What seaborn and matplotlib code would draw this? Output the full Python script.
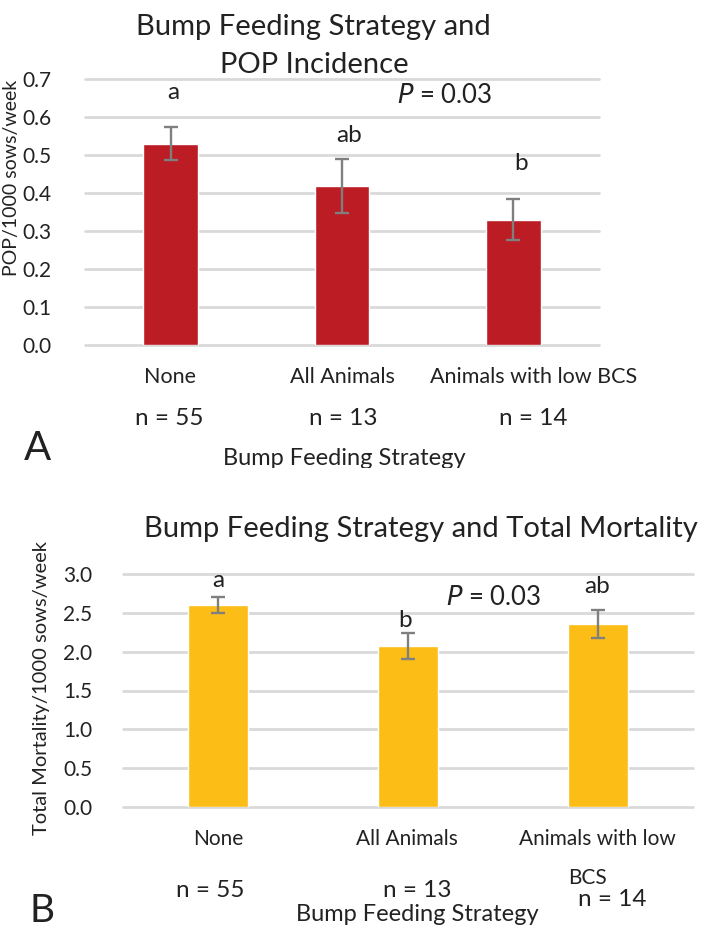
import matplotlib
matplotlib.use('Agg')
import matplotlib.pyplot as plt
import seaborn as sns
import pandas as pd

# data
strategies = ['None', 'All Animals', 'Animals with low BCS']
n_obs = [55, 13, 14]
pop_mean = [0.53, 0.418, 0.33]
pop_err = [0.044, 0.071, 0.054]
pop_letters = ['a', 'ab', 'b']
mort_mean = [2.60, 2.075, 2.355]
mort_err = [0.10, 0.166, 0.18]
mort_letters = ['a', 'b', 'ab']
p_value = 0.03

sns.set_style('white')
plt.rcParams['font.family'] = ['Lato', 'DejaVu Sans']

W, H = 701, 932
fig = plt.figure(figsize=(W / 100, H / 100), dpi=100)
TXT = '#222222'
GRID = '#d9d9d9'


def box(l, t, r, b):
    return [l / W, 1 - b / H, (r - l) / W, (b - t) / H]


def ftext(x, y, s, **kw):
    kw.setdefault('ha', 'center')
    kw.setdefault('va', 'baseline')
    kw.setdefault('color', TXT)
    return fig.text(x / W, 1 - y / H, s, **kw)


def bar_panel(rect, means, errs, color, ymax, step, ypad):
    ax = fig.add_axes(rect)
    df = pd.DataFrame({'strategy': strategies, 'value': means})
    sns.barplot(data=df, x='strategy', y='value', color=color, saturation=1,
                width=0.32, ax=ax, zorder=3)
    centers = [p.get_x() + p.get_width() / 2 for p in ax.patches]
    ax.errorbar(centers, means, yerr=errs, fmt='none', ecolor='#7f7f7f',
                elinewidth=1.7, capsize=5, capthick=1.7, zorder=4)
    ax.set_xlim(-0.5, len(strategies) - 0.5)
    ax.set_ylim(0, ymax)
    ticks = [i * step for i in range(int(round(ymax / step)) + 1)]
    ax.set_yticks(ticks)
    ax.set_yticklabels([f'{t:.1f}' for t in ticks])
    ax.yaxis.grid(True, color=GRID, linewidth=2, zorder=0)
    for line in ax.get_ygridlines():
        line.set_clip_on(False)
    ax.set_axisbelow(True)
    ax.tick_params(axis='y', length=0, pad=ypad, labelsize=15, labelcolor=TXT)
    ax.set_xticklabels([])
    ax.tick_params(axis='x', length=0)
    ax.set_xlabel('')
    ax.set_ylabel('')
    sns.despine(ax=ax, left=True, bottom=True)
    return ax


# ---- panel A: POP incidence
axA = bar_panel(box(85, 79, 599, 345), pop_mean, pop_err, '#bc1c24', 0.7, 0.1, 24)
ftext(313, 35, 'Bump Feeding Strategy and', fontsize=21)
ftext(314, 73, 'POP Incidence', fontsize=21)
ftext(12, 178, 'POP/1000 sows/week', rotation=90, va='center', fontsize=14)
for x, y, s in zip([173, 349, 521], [99, 142, 170], pop_letters):
    ftext(x, y, s, fontsize=17.5)
ftext(445, 103, f'$\\mathit{{P}}$ = {p_value:.2f}', fontsize=18.5)
for x, s in zip([170, 342, 534], strategies):
    ftext(x, 383, s, fontsize=15.5)
for x, n in zip([169, 343, 533], n_obs):
    ftext(x, 425, f'n = {n}', fontsize=17.5)
ftext(38, 460, 'A', fontsize=29)
xl = ftext(344, 465, 'Bump Feeding Strategy', fontsize=17)
clip = plt.Rectangle((0, 1 - 468 / H), 1, 468 / H, transform=fig.transFigure,
                     visible=False)
fig.add_artist(clip)
xl.set_clip_path(clip)

# ---- panel B: total mortality
axB = bar_panel(box(123, 574, 693, 807), mort_mean, mort_err, '#fbbd16', 3.0, 0.5, 22)
ftext(421, 537, 'Bump Feeding Strategy and Total Mortality', fontsize=21)
ftext(42, 688, 'Total Mortality/1000 sows/week', rotation=90, va='center', fontsize=14.5)
for x, y, s in zip([218, 405, 597], [587, 627, 593], mort_letters):
    ftext(x, y, s, fontsize=17.5)
ftext(494, 605, f'$\\mathit{{P}}$ = {p_value:.2f}', fontsize=18.5)
ftext(218, 845, strategies[0], fontsize=15)
ftext(407, 845, strategies[1], fontsize=15)
ftext(597, 845, 'Animals with low', fontsize=15)
ftext(588, 884, 'BCS', fontsize=15)
for x, y, n in zip([210, 417, 612], [897, 897, 906], n_obs):
    ftext(x, y, f'n = {n}', fontsize=17.5)
ftext(417, 921, 'Bump Feeding Strategy', fontsize=17)
ftext(42, 922, 'B', fontsize=28)

fig.savefig('out.png', dpi=100, facecolor='white')
